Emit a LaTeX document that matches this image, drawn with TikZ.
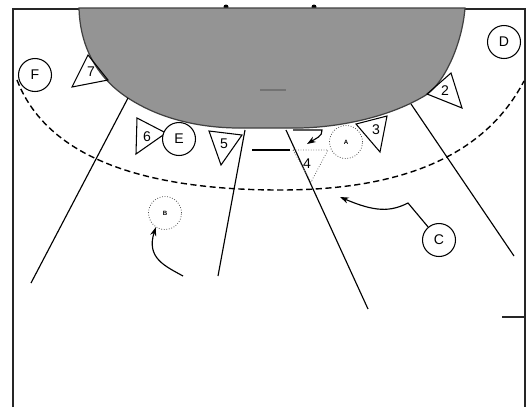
\documentclass[tikz,border=0pt]{standalone}
\usepackage{fontspec}
\setmainfont{Liberation Sans}
\usetikzlibrary{arrows.meta}
\tikzset{
  jugador/.style={circle,draw,line width=0.6pt,minimum size=0.66cm,inner sep=0pt,font=\fontsize{8}{8}\selectfont},
  ausente/.style={circle,draw=black!70,densely dotted,line width=0.45pt,minimum size=0.66cm,inner sep=0pt,font=\fontsize{3.5}{4}\bfseries\selectfont},
  defensa/.style={draw,line width=0.6pt,line join=miter},
  numero/.style={inner sep=0pt,font=\fontsize{8}{8}\selectfont},
  linea/.style={line width=0.65pt},
  flecha/.style={line width=0.65pt,-{Stealth[length=5pt,width=3.5pt]}}
}
\begin{document}
\begin{tikzpicture}[x=0.02cm,y=-0.02cm]
    \useasboundingbox (0,0) rectangle (526,407);
    % Pista
    \draw[line width=0.8pt,black!85] (13,407) -- (13,9) -- (525,9) -- (525,407);
    \fill (226,7) circle (2.5);
    \fill (314,7) circle (2.5);
    \draw[line width=0.9pt,black!85] (502,317) -- (525,317);
    % Area
    \draw[fill=black!42,draw=black!75,line width=0.7pt] (79,8) .. controls (80,50) and (100,80) .. (128,98)
        .. controls (160,119) and (200,128) .. (240,128) -- (296,128)
        .. controls (330,128) and (385,120) .. (426,95) .. controls (444,83) and (462,45) .. (465,8) -- cycle;
    \draw[line width=0.8pt,black!55] (260,90) -- (286,90);
    \draw[linea] (252,150) -- (290,150);
    % Linea de nueve metros
    \draw[line width=0.8pt,dash pattern=on 3.5pt off 2pt] (17,80) .. controls (50,165) and (160,190) .. (280,190)
        .. controls (385,190) and (480,165) .. (524,81);
    % Lineas de lanzamiento
    \coordinate (l1a) at (128,98);
    \coordinate (l1b) at (31,283);
    \coordinate (l2a) at (245,130);
    \coordinate (l2b) at (218,276);
    \coordinate (l3a) at (286,130);
    \coordinate (l3b) at (368,309);
    \coordinate (l4a) at (411,104);
    \coordinate (l4b) at (514,256);
    \draw[linea] (l1a) -- (l1b);
    \draw[linea] (l2a) -- (l2b);
    \draw[linea] (l3a) -- (l3b);
    \draw[linea] (l4a) -- (l4b);
    % Defensas
    \draw[defensa] (88,55) -- (72,87) -- (108,80) -- cycle;
    \draw[defensa] (137,118) -- (136,154) -- (166,133) -- cycle;
    \draw[defensa] (209,131) -- (242,135) -- (221,165) -- cycle;
    \draw[defensa] (356,124) -- (387,116) -- (380,152) -- cycle;
    \draw[defensa] (451,73) -- (427,94) -- (462,108) -- cycle;
    \draw[black!60,densely dotted,line width=0.45pt] (293,150) -- (328,150) -- (311,182) -- cycle;
    \node[numero] (n7) at (91,72) {7};
    \node[numero] (n6) at (147,137) {6};
    \node[numero] (n5) at (224,144) {5};
    \node[numero] (n3) at (376,130) {3};
    \node[numero] (n2) at (445,91) {2};
    \node[numero] (n4) at (307,164) {4};
    % Atacantes
    \node[jugador,fill=white] (F) at (35,75) {F};
    \node[jugador,fill=white] (E) at (179,139) {E};
    \node[jugador] (D) at (504,42) {D};
    \node[jugador] (C) at (439,240) {C};
    \node[ausente] (A) at (346,142) {A};
    \node[ausente] (B) at (165,213) {B};
    % Flechas
    \coordinate (codo) at (408,203);
    \coordinate (nueve) at (340,197);
    \coordinate (salidaB) at (183,276);
    \coordinate (salidaA) at (293,130);
    \coordinate (giroA) at (322,130);
    \coordinate (llegadaA) at (307,144);
    \draw[flecha] (C) -- (codo) .. controls (390,212) and (375,212) .. (nueve);
    \draw[flecha] (salidaB) .. controls (165,266) and (146,258) .. (B.237);
    \draw[flecha] (salidaA) -- (giroA) .. controls (323,136) and (315,139) .. (llegadaA);
\end{tikzpicture}
\end{document}
